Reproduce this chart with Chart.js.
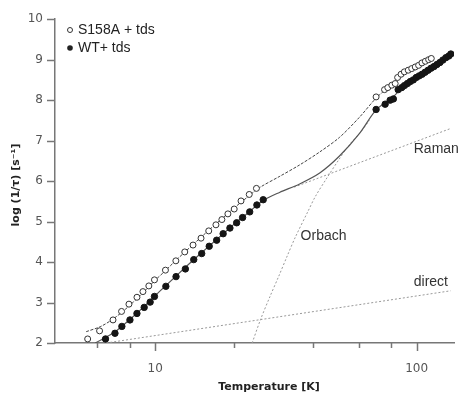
<!DOCTYPE html>
<html>
<head>
<meta charset="utf-8">
<script src="https://cdn.jsdelivr.net/npm/chart.js@4.4.1/dist/chart.umd.min.js"></script>
<style>
html, body { margin: 0; padding: 0; background: #fff; }
#wrap { width: 459px; height: 394px; }
</style>
</head>
<body>
<div id="wrap"><canvas id="canvas"></canvas></div>
<script>
const s158aT = [5.52, 6.13, 6.90, 7.44, 7.94, 8.52, 8.98, 9.46, 9.94, 10.95, 12.0, 12.98, 13.96, 14.98, 16.03, 17.08, 18.0, 18.98, 20.06, 21.3, 22.9, 24.4,
                70.0, 75.4, 77.6, 80.4, 82.8, 84.6, 87.2, 89.8, 92.9, 95.8, 98.8, 101.8, 104.8, 108.0, 111.2, 113.8];
const s158aY = [2.10, 2.30, 2.57, 2.78, 2.96, 3.13, 3.27, 3.41, 3.56, 3.80, 4.03, 4.25, 4.42, 4.59, 4.77, 4.92, 5.05, 5.19, 5.31, 5.51, 5.67, 5.82,
                8.08, 8.26, 8.31, 8.37, 8.41, 8.56, 8.64, 8.70, 8.74, 8.78, 8.82, 8.86, 8.92, 8.96, 9.00, 9.03];

const wtT = [6.46, 7.02, 7.46, 8.01, 8.52, 9.08, 9.57, 9.94, 10.99, 12.02, 13.05, 14.05, 15.07, 16.1, 17.19, 18.2, 19.32, 20.5, 21.6, 23.0, 24.5, 25.9,
             70.0, 75.8, 79.2, 81.5, 85.0, 87.7, 89.8, 92.2, 94.6, 97.1, 99.7, 102.3, 105.0, 107.8, 110.7, 113.6, 116.6, 119.6, 122.8, 126.0, 129.4, 132.8, 135.2];
const wtY = [2.10, 2.24, 2.41, 2.57, 2.73, 2.88, 3.01, 3.15, 3.40, 3.64, 3.83, 4.06, 4.21, 4.39, 4.54, 4.70, 4.84, 4.97, 5.10, 5.24, 5.41, 5.54,
             7.77, 7.90, 8.00, 8.03, 8.26, 8.31, 8.36, 8.41, 8.46, 8.50, 8.56, 8.60, 8.64, 8.69, 8.74, 8.79, 8.83, 8.88, 8.93, 8.99, 9.05, 9.09, 9.14];

// fit curves
const fitS158aT = [5.45, 6.2, 7.0, 8.0, 9.0, 10.0, 11.0, 12.0, 14.0, 16.0, 18.0, 20.0, 22.5, 25.1, 30.0, 35.7, 42.6, 50.7, 60.5, 70.0, 80.0, 90.0, 100.0, 114.0];
const fitS158aY = [2.28, 2.41, 2.62, 2.93, 3.25, 3.55, 3.80, 4.04, 4.44, 4.78, 5.07, 5.33, 5.60, 5.84, 6.12, 6.40, 6.72, 7.08, 7.58, 8.05, 8.38, 8.66, 8.86, 9.05];

const fitWtT = [5.9, 7.0, 8.0, 9.0, 10.0, 11.0, 12.0, 14.0, 16.0, 18.0, 20.0, 22.5, 25.9, 29.9, 35.7, 42.6, 50.7, 60.5, 70.0, 80.0, 90.0, 100.0, 115.0, 136.0];
const fitWtY = [2.0, 2.27, 2.58, 2.88, 3.17, 3.42, 3.65, 4.05, 4.38, 4.67, 4.93, 5.20, 5.52, 5.72, 5.93, 6.20, 6.62, 7.18, 7.76, 8.04, 8.36, 8.57, 8.82, 9.14];

const ramanT = [34.0, 135.0];
const ramanY = [5.85, 7.30];
const orbachT = [23.5, 25.3, 27.5, 29.7, 32.0, 34.4, 38.4, 41.0, 45.1, 50.3, 55.0, 60.5, 66.0];
const orbachY = [2.0, 2.58, 3.15, 3.65, 4.15, 4.62, 5.25, 5.62, 6.05, 6.52, 6.88, 7.18, 7.50];
const directT = [6.5, 135.0];
const directY = [2.0, 3.29];

// axes
const xTicks = [6, 8, 10, 20, 40, 60, 80, 100];
const xLabelled = [10, 100];
const yTicks = [2, 3, 4, 5, 6, 7, 8, 9, 10];

const seriesNames = ['S158A + tds', 'WT+ tds'];
const curveNames = [
  {text: 'Raman', T: 97.5, Y: 6.79},
  {text: 'Orbach', T: 36.0, Y: 4.64},
  {text: 'direct', T: 97.5, Y: 3.51}
];

function pts(xs, ys) {
  return xs.map(function (x, i) { return {x: x, y: ys[i]}; });
}

const decor = {
  id: 'decor',
  afterDraw: function (chart) {
    const ctx = chart.ctx;
    const x = chart.scales.x, y = chart.scales.y;
    ctx.save();
    ctx.strokeStyle = '#777';
    ctx.lineWidth = 1.5;
    xTicks.forEach(function (v) {
      const px = Math.round(x.getPixelForValue(v)) + 0.5;
      const len = xLabelled.indexOf(v) >= 0 ? 8 : 5;
      ctx.beginPath();
      ctx.moveTo(px, y.bottom);
      ctx.lineTo(px, y.bottom + len);
      ctx.stroke();
    });
    yTicks.forEach(function (v) {
      const py = Math.round(y.getPixelForValue(v)) + 0.5;
      ctx.beginPath();
      ctx.moveTo(x.left, py);
      ctx.lineTo(x.left - 8, py);
      ctx.stroke();
    });

    // legend
    ctx.font = '14px "Liberation Sans", Arial, sans-serif';
    ctx.textBaseline = 'middle';
    ctx.fillStyle = '#222';
    ctx.lineWidth = 1;
    ctx.strokeStyle = '#333';
    ctx.beginPath();
    ctx.arc(70, 30, 2.5, 0, Math.PI * 2);
    ctx.stroke();
    ctx.fillText(seriesNames[0], 78, 30);
    ctx.beginPath();
    ctx.arc(70, 48, 2.8, 0, Math.PI * 2);
    ctx.fill();
    ctx.fillText(seriesNames[1], 78, 48);

    // curve labels
    ctx.fillStyle = '#333';
    curveNames.forEach(function (c) {
      ctx.fillText(c.text, x.getPixelForValue(c.T), y.getPixelForValue(c.Y));
    });

    // axis titles
    ctx.fillStyle = '#222';
    ctx.font = 'bold 11px "DejaVu Sans", sans-serif';
    ctx.textAlign = 'center';
    ctx.fillText('Temperature [K]', 269, 387);
    ctx.translate(16, 185);
    ctx.rotate(-Math.PI / 2);
    ctx.fillText('log (1/\u03C4) [s\u207B\u00B9]', 0, 0);
    ctx.restore();
  }
};

const ctx = document.getElementById('canvas').getContext('2d');
const myChart = new Chart(ctx, {
  type: 'scatter',
  data: {
    datasets: [
      {label: seriesNames[0], data: pts(s158aT, s158aY), order: 0,
       pointRadius: 3, pointBackgroundColor: '#fff', pointBorderColor: '#333', pointBorderWidth: 1},
      {label: seriesNames[1], data: pts(wtT, wtY), order: 0,
       pointRadius: 3.2, pointBackgroundColor: '#151515', pointBorderColor: '#151515', pointBorderWidth: 1},
      {label: 'fit S158A', data: pts(fitS158aT, fitS158aY), order: 1, showLine: true, pointRadius: 0,
       borderColor: '#444', borderWidth: 1, borderDash: [3, 1.5], tension: 0.3},
      {label: 'fit WT', data: pts(fitWtT, fitWtY), order: 1, showLine: true, pointRadius: 0,
       borderColor: '#555', borderWidth: 1.2, tension: 0.3},
      {label: 'Raman', data: pts(ramanT, ramanY), order: 2, showLine: true, pointRadius: 0,
       borderColor: '#999', borderWidth: 1, borderDash: [2, 2]},
      {label: 'Orbach', data: pts(orbachT, orbachY), order: 2, showLine: true, pointRadius: 0,
       borderColor: '#999', borderWidth: 1, borderDash: [2, 2], tension: 0.3},
      {label: 'direct', data: pts(directT, directY), order: 2, showLine: true, pointRadius: 0,
       borderColor: '#999', borderWidth: 1, borderDash: [2, 2]}
    ]
  },
  options: {
    responsive: true,
    maintainAspectRatio: false,
    animation: false,
    devicePixelRatio: 1,
    layout: {padding: {top: 19, right: 4, left: 0, bottom: 0}},
    plugins: {legend: {display: false}, tooltip: {enabled: false}},
    scales: {
      x: {
        type: 'logarithmic',
        min: 4.14,
        max: 139,
        afterBuildTicks: function (scale) {
          scale.ticks = xTicks.map(function (v) { return {value: v}; });
        },
        afterFit: function (scale) { scale.height = 51; },
        grid: {display: false, drawTicks: false},
        border: {display: true, color: '#777', width: 1.5},
        ticks: {
          autoSkip: false, maxRotation: 0, padding: 19,
          color: '#555', font: {family: 'DejaVu Sans', size: 12},
          callback: function (v) { return xLabelled.indexOf(v) >= 0 ? String(v) : ''; }
        }
      },
      y: {
        min: 2,
        max: 10,
        afterBuildTicks: function (scale) {
          scale.ticks = yTicks.map(function (v) { return {value: v}; });
        },
        afterFit: function (scale) { scale.width = 55; },
        grid: {display: false, drawTicks: false},
        border: {display: true, color: '#777', width: 1.5},
        ticks: {padding: 12, color: '#555', font: {family: 'DejaVu Sans', size: 12}}
      }
    }
  },
  plugins: [decor]
});
</script>
</body>
</html>
